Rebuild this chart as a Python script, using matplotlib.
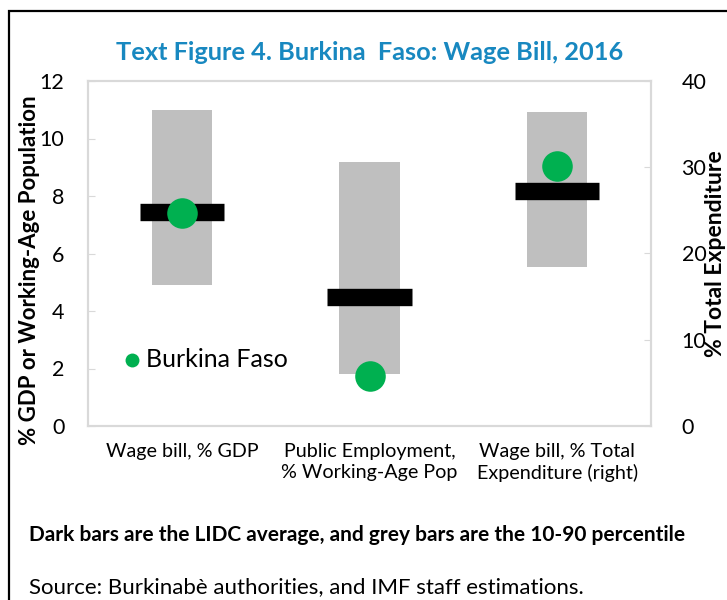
import matplotlib.pyplot as plt
from matplotlib.patches import Rectangle

# Data
categories = ["Wage bill, % GDP", "Public Employment,\n% Working-Age Pop",
              "Wage bill, % Total\nExpenditure (right)"]
p10 = [4.9, 1.8, 18.4]
p90 = [11.0, 9.2, 36.4]
lidc_avg = [7.45, 4.5, 27.2]
burkina = [7.4, 1.75, 30.1]
on_right = [False, False, True]

left_ticks = [0, 2, 4, 6, 8, 10, 12]
right_ticks = [0, 10, 20, 30, 40]

FONT = ["Lato", "DejaVu Sans"]
plt.rcParams['font.family'] = FONT

W, H = 727, 600
fig = plt.figure(figsize=(W / 100, H / 100), dpi=100)
ax = fig.add_axes([88 / W, 1 - 426 / H, (651 - 88) / W, (426 - 81) / H])
ax2 = ax.twinx()

grey = "#bfbfbf"
green = "#00b050"
for i in range(len(categories)):
    a = ax2 if on_right[i] else ax
    a.bar(i, p90[i] - p10[i], bottom=p10[i], width=0.32, color=grey, zorder=1)
    a.hlines(lidc_avg[i], i - 0.225, i + 0.225, color="black", lw=12.5, zorder=2)
    a.plot(i, burkina[i], "o", color=green, ms=22, mec="none", zorder=3)

ax.set_xlim(-0.5, 2.5)
ax.set_ylim(0, 12)
ax2.set_ylim(0, 40)
ax.set_yticks(left_ticks)
ax2.set_yticks(right_ticks)
ax.set_xticks(range(len(categories)))
ax.set_xticklabels(categories, fontsize=14.2, linespacing=1.3)
ax.tick_params(axis="x", length=0, pad=12)
ax.tick_params(axis="y", direction="in", length=5, color="#d9d9d9", labelsize=15.5, pad=17)
ax2.tick_params(axis="y", direction="in", length=5, color="#d9d9d9", labelsize=15.5, pad=22)
for a in (ax, ax2):
    for s in a.spines.values():
        s.set_color("#d9d9d9")
        s.set_linewidth(1.5)

# legend
ax.plot(-0.267, 2.3, "o", color=green, ms=10, mec="none", clip_on=False)
ax.text(-0.19, 2.3, "Burkina Faso", fontsize=18, va="center", ha="left")

fig.text(370 / W, 1 - 53 / H, "Text Figure 4. Burkina  Faso: Wage Bill, 2016",
         color="#1888c0", fontsize=18.3, fontweight="bold", ha="center", va="center")
fig.text(30 / W, 1 - 270 / H, "% GDP or Working-Age Population", rotation=90,
         fontsize=16, fontweight="bold", ha="center", va="center")
fig.text(716 / W, 1 - 254 / H, "% Total Expenditure", rotation=90,
         fontsize=16.5, fontweight="bold", ha="center", va="center")
fig.text(29 / W, 1 - 535 / H,
         "Dark bars are the LIDC average, and grey bars are the 10-90 percentile",
         fontsize=15, fontweight="bold", ha="left", va="center")
fig.text(29 / W, 1 - 587 / H, "Source: Burkinabè authorities, and IMF staff estimations.",
         fontsize=16, ha="left", va="center")

# outer frame
fig.patches.append(Rectangle((9 / W, -0.1), 1.2, 1 - 11 / H + 0.1, transform=fig.transFigure,
                             fill=False, edgecolor="black", lw=1.6))

fig.savefig("out.png", dpi=100)
